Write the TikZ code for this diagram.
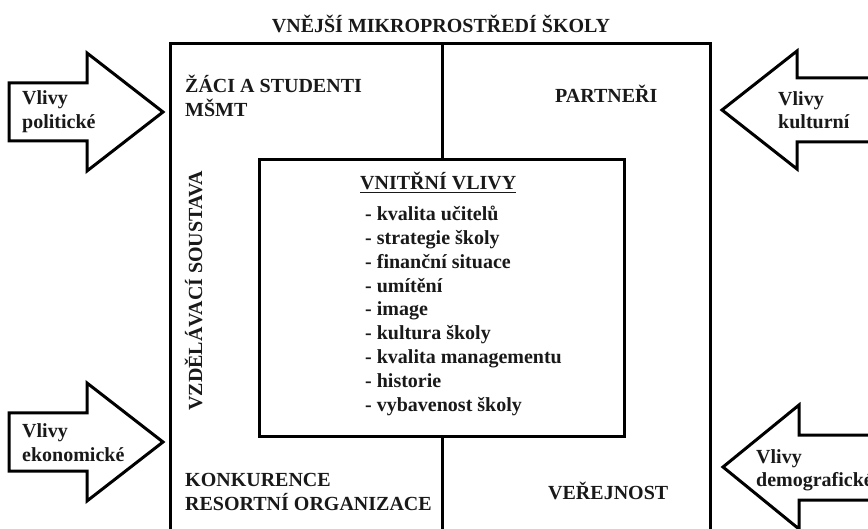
\documentclass[tikz,border=0pt]{standalone}
\usepackage{fontspec}
\setmainfont{Liberation Serif}
\begin{document}
\begin{tikzpicture}[x=1pt,y=-1pt,
  frame/.style={line width=3pt, line join=miter, line cap=rect},
  arr/.style={draw, line width=3pt, line join=miter, fill=white},
  lbl/.style={font=\fontsize{20}{24}\selectfont\bfseries, anchor=base west, inner sep=0pt, text=black!90}]
\useasboundingbox (0,0) rectangle (868,529);
\clip (0,0) rectangle (868,529);

% influence arrows
\path[arr] (9,83) -- (87,83) -- (87,53) -- (163,112) -- (87,171) -- (87,141) -- (9,141) -- cycle;
\path[arr] (9,413) -- (87,413) -- (87,383) -- (163,442) -- (87,501) -- (87,471) -- (9,471) -- cycle;
\path[arr] (885,78) -- (797,78) -- (797,51) -- (722,110) -- (797,169) -- (797,142) -- (885,142);
\path[arr] (885,435) -- (799,435) -- (799,405) -- (723,467) -- (799,529) -- (799,500) -- (885,500);

% outer frame and dividers
\coordinate (otl) at (170,44);
\coordinate (otr) at (710,44);
\coordinate (obl) at (170,545);
\coordinate (obr) at (710,545);
\draw[frame] (obl) -- (otl) -- (otr) -- (obr);
\node[draw, line width=3pt, minimum width=365pt, minimum height=277pt, inner sep=0pt, anchor=north west] (inner) at (258,158) {};
\coordinate (dtop) at (442,44);
\coordinate (dbot) at (442,545);
\draw[frame] (dtop) -- (dtop |- inner.north);
\draw[frame] (dbot |- inner.south) -- (dbot);

% texts
\node[lbl, anchor=base] (title) at (441,33) {VNĚJŠÍ MIKROPROSTŘEDÍ ŠKOLY};
\node[lbl] (zaci) at (185,93) {ŽÁCI A STUDENTI};
\node[lbl] (msmt) at (185,117) {MŠMT};
\node[lbl] (partneri) at (555,103) {PARTNEŘI};
\node[lbl] (konk) at (185,486) {KONKURENCE};
\node[lbl] (resort) at (185,510) {RESORTNÍ ORGANIZACE};
\node[lbl] (verej) at (548,499) {VEŘEJNOST};
\node[lbl, anchor=base, rotate=90] (vzdel) at (202,291) {VZDĚLÁVACÍ SOUSTAVA};

\node[lbl] (v1a) at (22,105) {Vlivy};
\node[lbl] (v1b) at (22,129) {politické};
\node[lbl] (v2a) at (778,106) {Vlivy};
\node[lbl] (v2b) at (778,129) {kulturní};
\node[lbl] (v3a) at (22,437) {Vlivy};
\node[lbl] (v3b) at (22,461) {ekonomické};
\node[lbl] (v4a) at (756,464) {Vlivy};
\node[lbl] (v4b) at (756,486) {demografické};

\node[lbl] (vnitrni) at (360,190) {\underline{VNITŘNÍ VLIVY}};
\foreach \t [count=\i] in {kvalita učitelů, strategie školy, finanční situace, umítění, image, kultura školy, kvalita managementu, historie, vybavenost školy}
  \node[lbl] (item\i) at (365,{197+23.8*\i}) {- \t};
\end{tikzpicture}
\end{document}
